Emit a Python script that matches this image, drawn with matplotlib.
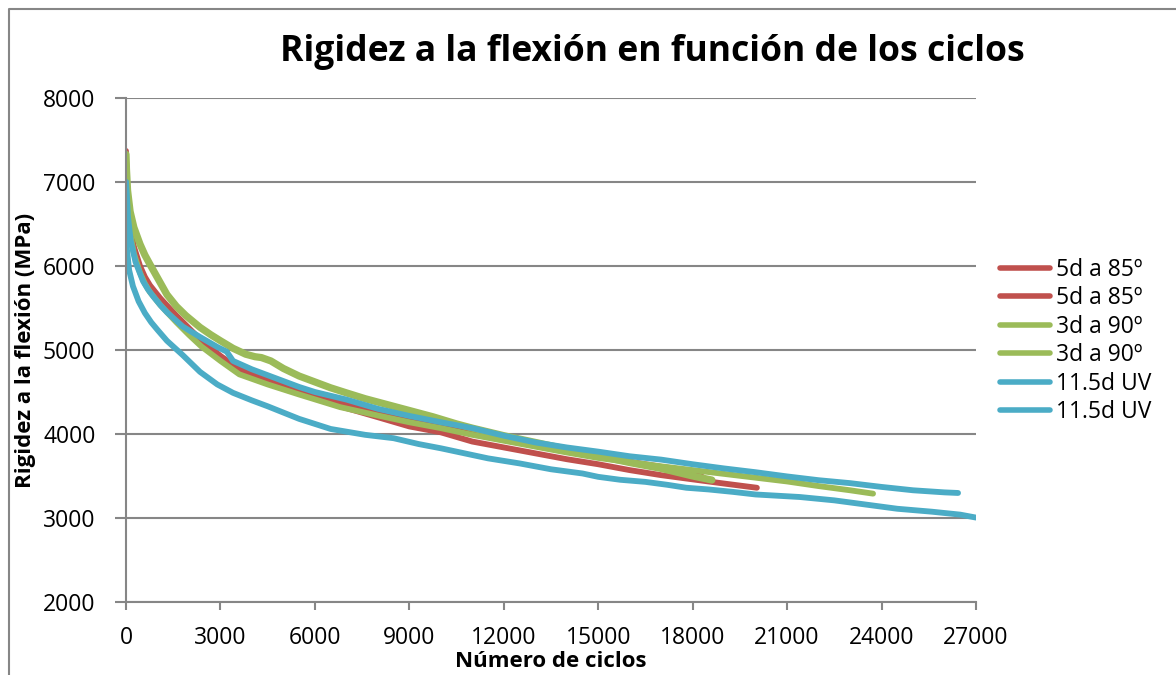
import matplotlib
matplotlib.use("Agg")
import matplotlib.pyplot as plt
from matplotlib.lines import Line2D

# ---- data ----
red1_x = [0, 15, 50, 130, 250, 445, 600, 760, 1080, 1350, 1600, 2000, 2400, 3000, 3600, 4500, 5500, 6800, 8000,
          9000, 10000, 11000, 12000, 13000, 14000, 15000, 16000, 17000, 18000, 19000, 20040]
red1_y = [7370, 7100, 6750, 6450, 6200, 5960, 5840, 5740, 5590, 5480, 5380, 5220, 5070, 4890, 4740, 4610, 4490, 4330, 4200,
          4090, 4020, 3910, 3840, 3770, 3700, 3640, 3570, 3510, 3460, 3410, 3360]

red2_x = [0, 15, 50, 130, 250, 445, 600, 760, 1080, 1350, 1600, 2000, 2400, 3000, 3600, 4500, 5500, 6800, 8000,
          9000, 10000, 11000, 12000, 13000, 14000, 15000, 16000, 17000, 18300]
red2_y = [7300, 7050, 6750, 6470, 6230, 6000, 5870, 5770, 5620, 5510, 5410, 5260, 5110, 4930, 4770, 4640, 4530, 4380, 4260,
          4170, 4090, 4010, 3930, 3860, 3790, 3730, 3670, 3610, 3545]

greenA_x = [0, 15, 50, 130, 250, 445, 600, 760, 1000, 1300, 1600, 1900, 2350, 2700, 3000, 3400, 3800, 4100, 4300,
            4600, 5000, 5500, 6000, 6500, 7000, 7600, 8000, 8700, 9200, 9750, 10500, 11000, 12000, 13000, 14000,
            15000, 16000, 17000, 18000, 18610]
greenA_y = [7330, 7150, 6900, 6650, 6460, 6260, 6130, 6020, 5860, 5660, 5520, 5410, 5270, 5180, 5110, 5020, 4950, 4920,
            4910, 4870, 4780, 4690, 4620, 4550, 4490, 4420, 4380, 4310, 4260, 4205, 4120, 4070, 3980, 3900, 3820,
            3740, 3660, 3590, 3500, 3452]

greenB_x = [0, 15, 50, 130, 250, 445, 600, 760, 1080, 1350, 1600, 2000, 2400, 3000, 3600, 4500, 5500, 6800, 8000,
            9000, 10000, 11000, 12000, 13000, 14000, 15000, 16000, 17000, 18000, 19000, 20000, 21000, 22000,
            23000, 23730]
greenB_y = [7250, 7000, 6700, 6400, 6150, 5920, 5790, 5690, 5540, 5430, 5330, 5180, 5040, 4870, 4710, 4590, 4470, 4320, 4220,
            4140, 4070, 3990, 3920, 3850, 3780, 3715, 3665, 3615, 3570, 3525, 3480, 3435, 3380,
            3330, 3290]

cyan1_x = [0, 20, 60, 150, 300, 540, 700, 860, 1100, 1300, 1800, 2350, 2900, 3200, 3400, 4000, 4500, 5000, 5500,
           6000, 7000, 8000, 9000, 10000, 11000, 12000, 13000, 14000, 15000, 16000, 17000, 18000, 19000, 20000,
           21000, 22000, 23000, 24000, 25000, 26000, 26430]
cyan1_y = [7000, 6900, 6600, 6300, 6050, 5820, 5720, 5640, 5530, 5450, 5280, 5155, 5036, 4980, 4870, 4770, 4700,
           4630, 4560, 4500, 4410, 4300, 4215, 4140, 4070, 3980, 3900, 3840, 3790, 3735, 3695, 3640, 3590,
           3545, 3495, 3450, 3415, 3370, 3330, 3305, 3298]

cyan2_x = [0, 10, 30, 100, 220, 400, 600, 800, 1000, 1300, 1800, 2350, 2900, 3400, 4000, 4500, 5500, 6500, 7600,
           8500, 9300, 10000, 11500, 12500, 13500, 14500, 15000, 15700, 16500, 17200, 17800, 18500, 19300,
           20000, 21400, 22500, 23500, 24500, 25600, 26500, 27000]
cyan2_y = [7000, 6500, 6200, 5950, 5760, 5580, 5440, 5330, 5240, 5110, 4940, 4740, 4590, 4490, 4400, 4330, 4180,
           4060, 3990, 3950, 3880, 3830, 3710, 3650, 3580, 3530, 3490, 3455, 3430, 3395, 3360, 3340, 3310,
           3280, 3250, 3210, 3160, 3110, 3075, 3040, 3005]

labels = ["5d a 85º", "5d a 85º", "3d a 90º", "3d a 90º", "11.5d UV", "11.5d UV"]
x_ticks = [0, 3000, 6000, 9000, 12000, 15000, 18000, 21000, 24000, 27000]
y_ticks = [2000, 3000, 4000, 5000, 6000, 7000, 8000]

RED = "#C0504D"
GREEN = "#9BBB59"
CYAN = "#4BACC6"
GRID = "#868686"

plt.rcParams['font.family'] = ['Open Sans', 'DejaVu Sans']

fig = plt.figure(figsize=(11.76, 6.75), dpi=100)
ax = fig.add_axes([126/1176, 1-602/675, 850/1176, 504/675])

series = [
    (red1_x, red1_y, RED, 4.2),
    (red2_x, red2_y, RED, 4.2),
    (greenA_x, greenA_y, GREEN, 5.2),
    (greenB_x, greenB_y, GREEN, 4.2),
    (cyan1_x, cyan1_y, CYAN, 4.2),
    (cyan2_x, cyan2_y, CYAN, 4.2),
]
handles = []
for (xs, ys, c, lw), lab in zip(series, labels):
    ax.plot(xs, ys, color=c, lw=lw, solid_capstyle='round', solid_joinstyle='round', label=lab)
    handles.append(Line2D([], [], color=c, lw=4.0, solid_capstyle='round'))

ax.set_xlim(0, 27000)
ax.set_ylim(2000, 8000)
ax.set_xticks(x_ticks)
ax.set_yticks(y_ticks)
ax.yaxis.grid(True, color=GRID, lw=1.5)
ax.set_axisbelow(True)
for s in ['top', 'right']:
    ax.spines[s].set_visible(False)
for s in ['left', 'bottom']:
    ax.spines[s].set_color(GRID)
    ax.spines[s].set_linewidth(1.5)
ax.tick_params(axis='both', colors=GRID, labelcolor='black', labelsize=16.5, width=1.5)
ax.tick_params(axis='x', length=6, pad=11)
ax.tick_params(axis='y', length=8, pad=14)

ax.set_xlabel("Número de ciclos", fontsize=16, fontweight='bold', labelpad=1)
ax.set_ylabel("Rigidez a la flexión (MPa)", fontsize=16, fontweight='bold', labelpad=5)

fig.text(652/1176, 1-52/675, "Rigidez a la flexión en función de los ciclos",
         fontsize=25.6, fontweight='bold', ha='center', va='center')

fig.legend(handles, labels, loc='center left', bbox_to_anchor=(1000/1176, 1-341/675),
           frameon=False, fontsize=16.5, handlelength=2.2, handletextpad=0.25,
           labelspacing=0.2, borderpad=0, borderaxespad=0)

# chart border (top and left edges visible)
fig.add_artist(Line2D([9/1176, 9/1176, 1], [0, 1-9/675, 1-9/675], transform=fig.transFigure,
                      color=GRID, lw=1.5))

fig.savefig("out.png", dpi=100)
